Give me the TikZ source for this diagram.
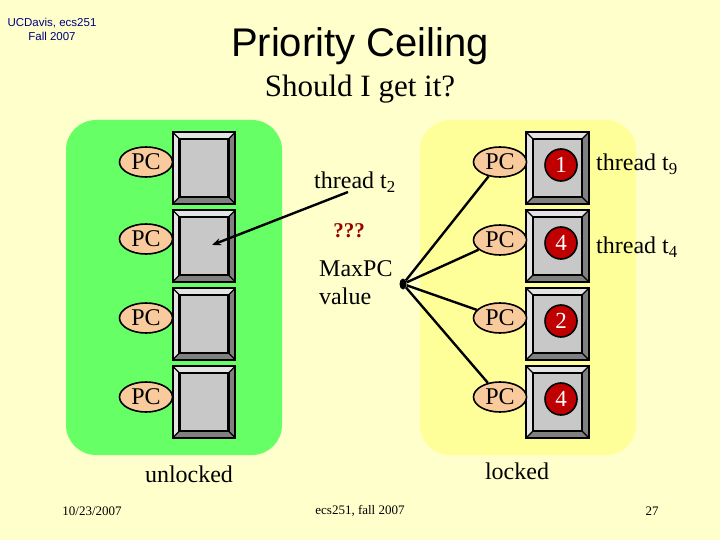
\documentclass[tikz,border=0pt]{standalone}
\usepackage{fontspec}
\setmainfont{Liberation Serif}
\newfontfamily\arialfont{Liberation Sans}
\usetikzlibrary{shapes.geometric,arrows.meta}
\definecolor{slidebg}{HTML}{FFFFCC}
\definecolor{freegreen}{HTML}{66FF66}
\definecolor{heldyellow}{HTML}{FFFF99}
\definecolor{peach}{HTML}{F9CB9C}
\definecolor{bevellight}{HTML}{E4E4E4}
\definecolor{beveldark}{HTML}{808080}
\definecolor{pegface}{HTML}{C8C8C8}
\definecolor{prired}{HTML}{C00000}
\definecolor{asktext}{HTML}{990000}
\definecolor{navytext}{HTML}{000080}
\pgfdeclarelayer{backlayer}
\pgfdeclarelayer{edgelayer}
\pgfsetlayers{backlayer,main,edgelayer}
\tikzstyle{edge}=[draw=black, line width=2.4pt]
\tikzstyle{pcnode}=[ellipse, fill=peach, draw=black, line width=1.6pt, minimum width=53pt, minimum height=30pt, inner sep=0pt, font=\fontsize{24}{24}\selectfont]
\tikzstyle{pegouter}=[rectangle, fill=beveldark, minimum width=62pt, minimum height=71pt, inner sep=0pt]
\tikzstyle{peginner}=[rectangle, fill=pegface, draw=black, line width=1.6pt, minimum width=48pt, minimum height=57pt, inner sep=0pt]
\tikzstyle{prio}=[circle, fill=prired, draw=black, line width=1.6pt, minimum size=32pt, inner sep=0pt, text=white, font=\fontsize{23}{23}\selectfont]
\tikzstyle{label}=[font=\fontsize{24}{28}\selectfont, inner sep=0pt]
\tikzstyle{footer}=[font=\fontsize{13}{13}\selectfont, inner sep=0pt]
% one beveled lock box: name, x, y
\newcommand{\lockbox}[3]{%
	\node [style=pegouter] (#1) at (#2, #3) {};
	\node [style=peginner] (#1i) at (#2, #3) {};
	\fill [bevellight] (#1.north west) -- (#1.north east) -- (#1i.north east) -- (#1i.north west) -- (#1i.south west) -- (#1.south west) -- cycle;
	\draw [line width=1.6pt] (#1i.south west) rectangle (#1i.north east);
	\draw [line width=1.4pt] (#1.north west) -- (#1i.north west) (#1.north east) -- (#1i.north east) (#1.south west) -- (#1i.south west) (#1.south east) -- (#1i.south east);
	\draw [line width=2.2pt] (#1.south west) rectangle (#1.north east);
}

\begin{document}
\begin{tikzpicture}[x=1pt, y=-1pt]
	\begin{pgfonlayer}{backlayer}
		\fill [slidebg] (0, 0) rectangle (720, 540);
		\fill [freegreen, rounded corners=30pt] (66, 120) rectangle (282, 455);
		\fill [heldyellow, rounded corners=30pt] (420, 120) rectangle (636, 455);
	\end{pgfonlayer}
	\useasboundingbox (0, 0) rectangle (720, 540);
	% header and title
	\node [font=\arialfont\fontsize{11.5}{14}\selectfont, text=navytext, align=center, inner sep=0pt] (course) at (52, 29) {UCDavis, ecs251\\Fall 2007};
	\node [font=\arialfont\fontsize{40}{40}\selectfont, inner sep=0pt] (title) at (360, 46) {Priority Ceiling};
	\node [font=\fontsize{31}{31}\selectfont, inner sep=0pt] (subtitle) at (360, 89) {Should I get it?};
	% unlocked side
	\lockbox{ul1}{204}{168}
	\lockbox{ul2}{204}{246}
	\lockbox{ul3}{204}{324}
	\lockbox{ul4}{204}{402}
	\node [style=pcnode] (upc1) at (146, 162) {PC};
	\node [style=pcnode] (upc2) at (146, 239) {PC};
	\node [style=pcnode] (upc3) at (146, 318) {PC};
	\node [style=pcnode] (upc4) at (146, 397) {PC};
	% locked side
	\lockbox{lk1}{557.5}{168}
	\lockbox{lk2}{557.5}{246}
	\lockbox{lk3}{557.5}{324}
	\lockbox{lk4}{557.5}{402}
	\node [style=pcnode] (lpc1) at (500, 162) {PC};
	\node [style=pcnode] (lpc2) at (500, 240) {PC};
	\node [style=pcnode] (lpc3) at (500, 318) {PC};
	\node [style=pcnode] (lpc4) at (500, 397) {PC};
	\node [style=prio] (p1) at (561, 165) {1};
	\node [style=prio] (p2) at (561, 243) {4};
	\node [style=prio] (p3) at (561, 321) {2};
	\node [style=prio] (p4) at (561, 399) {4};
	\node [style=label, anchor=west] (t9) at (596, 164) {thread t\textsubscript{9}};
	\node [style=label, anchor=west] (t4) at (596, 247) {thread t\textsubscript{4}};
	% middle texts
	\node [style=label] (t2) at (355, 182) {thread t\textsubscript{2}};
	\node [style=label, text=asktext, font=\bfseries\fontsize{21}{21}\selectfont] (ask) at (349, 231) {???};
	\node [style=label, align=left, anchor=north west] (maxpc) at (319, 260) {MaxPC\\value};
	\node [style=label] (unlk) at (189, 474) {unlocked};
	\node [style=label] (lk) at (517, 471) {locked};
	% footer
	\node [style=footer] (date) at (92, 511) {10/23/2007};
	\node [style=footer] (course2) at (360, 511) {ecs251, fall 2007};
	\node [style=footer] (page) at (652, 511) {27};
	\coordinate (t2tail) at (348, 192);
	\coordinate (t2tip) at (212, 245);
	\node [ellipse, fill=black, minimum width=7pt, minimum height=11pt, inner sep=0pt] (hub) at (403, 284) {};
	\begin{pgfonlayer}{edgelayer}
		\draw [style=edge, -{Stealth[length=9pt, width=7pt]}] (t2tail) to (t2tip);
		\draw [style=edge] (hub) to (lpc1);
		\draw [style=edge] (hub) to (lpc2);
		\draw [style=edge] (hub) to (lpc3);
		\draw [style=edge] (hub) to (lpc4);
	\end{pgfonlayer}
\end{tikzpicture}
\end{document}
